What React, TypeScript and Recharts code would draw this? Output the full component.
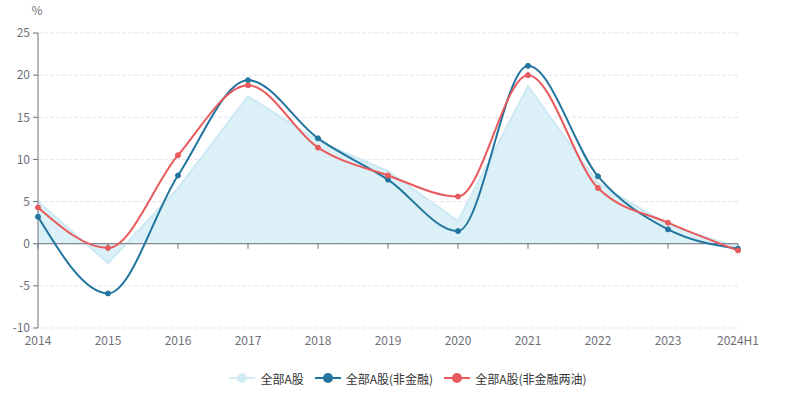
import { ComposedChart, Area, Line, XAxis, YAxis, CartesianGrid, ReferenceLine, Legend } from "recharts";

const years = ["2014", "2015", "2016", "2017", "2018", "2019", "2020", "2021", "2022", "2023", "2024H1"];
const allA = [5.0, -2.3, 6.6, 17.5, 12.2, 8.6, 2.7, 18.7, 7.2, 2.2, -0.4];
const nonFin = [3.2, -5.9, 8.1, 19.4, 12.5, 7.6, 1.5, 21.1, 8.0, 1.7, -0.6];
const nonFinOil = [4.3, -0.5, 10.5, 18.8, 11.4, 8.1, 5.6, 20.0, 6.6, 2.5, -0.8];
const yTicks = [-10, -5, 0, 5, 10, 15, 20, 25];

const data = years.map((y, i) => ({
  year: y,
  allA: allA[i],
  nonFin: nonFin[i],
  nonFinOil: nonFinOil[i],
}));

const font = "'Noto Sans CJK SC', 'Noto Sans', sans-serif";
const axisColor = "#6e7079";

const legendItems = [
  { name: "全部A股", color: "#d3edf5" },
  { name: "全部A股(非金融)", color: "#21759e" },
  { name: "全部A股(非金融两油)", color: "#e85a5c" },
];

function LegendContent() {
  return (
    <div style={{ display: "flex", justifyContent: "center", gap: 11, fontFamily: font, fontSize: 12, color: "#333", height: 20, alignItems: "center", paddingLeft: 78 }}>
      {legendItems.map((it) => (
        <div key={it.name} style={{ display: "flex", alignItems: "center", gap: 5 }}>
          <svg width={26} height={14}>
            <line x1={0} y1={7} x2={26} y2={7} stroke={it.color} strokeWidth={2} />
            <circle cx={13} cy={7} r={5} fill={it.color} />
          </svg>
          <span>{it.name}</span>
        </div>
      ))}
    </div>
  );
}

export default function App() {
  return (
    <div style={{ position: "absolute", left: 0, top: 0, width: 792, height: 398, background: "#fff" }}>
      <ComposedChart width={792} height={398} data={data} margin={{ top: 33, right: 54, left: 0, bottom: 10 }}>
        <CartesianGrid vertical={false} stroke="#e3e3f3" strokeDasharray="4 2" />
        <XAxis
          dataKey="year"
          axisLine={false}
          tickLine={false}
          tickSize={0}
          tickMargin={8}
          height={40}
          interval={0}
          tick={{ fill: axisColor, fontSize: 12, fontFamily: font }}
        />
        <YAxis
          domain={[-10, 25]}
          ticks={yTicks}
          width={38}
          axisLine={{ stroke: axisColor }}
          tickLine={{ stroke: axisColor }}
          tickSize={5}
          tickMargin={3}
          tick={{ fill: axisColor, fontSize: 12, fontFamily: font }}
          label={{ value: "%", position: "top", offset: 18, dx: 18, fill: axisColor, fontSize: 12, fontFamily: font }}
        />
        <ReferenceLine y={0} stroke={axisColor} />
        {years.map((y) => (
          <ReferenceLine key={y} segment={[{ x: y, y: 0 }, { x: y, y: -0.6 }]} stroke={axisColor} />
        ))}
        <Area
          type="linear"
          dataKey="allA"
          name="全部A股"
          stroke="#cde9f3"
          strokeWidth={2}
          fill="#dcf0f7"
          fillOpacity={1}
          dot={false}
          activeDot={false}
          isAnimationActive={false}
        />
        <Line
          type="monotone"
          dataKey="nonFin"
          name="全部A股(非金融)"
          stroke="#21759e"
          strokeWidth={2}
          dot={{ r: 2.5, fill: "#21759e", stroke: "#21759e", strokeWidth: 1 }}
          isAnimationActive={false}
        />
        <Line
          type="monotone"
          dataKey="nonFinOil"
          name="全部A股(非金融两油)"
          stroke="#e85a5c"
          strokeWidth={2}
          dot={{ r: 2.5, fill: "#e85a5c", stroke: "#e85a5c", strokeWidth: 1 }}
          isAnimationActive={false}
        />
        <Legend verticalAlign="bottom" height={20} content={<LegendContent />} />
      </ComposedChart>
    </div>
  );
}
